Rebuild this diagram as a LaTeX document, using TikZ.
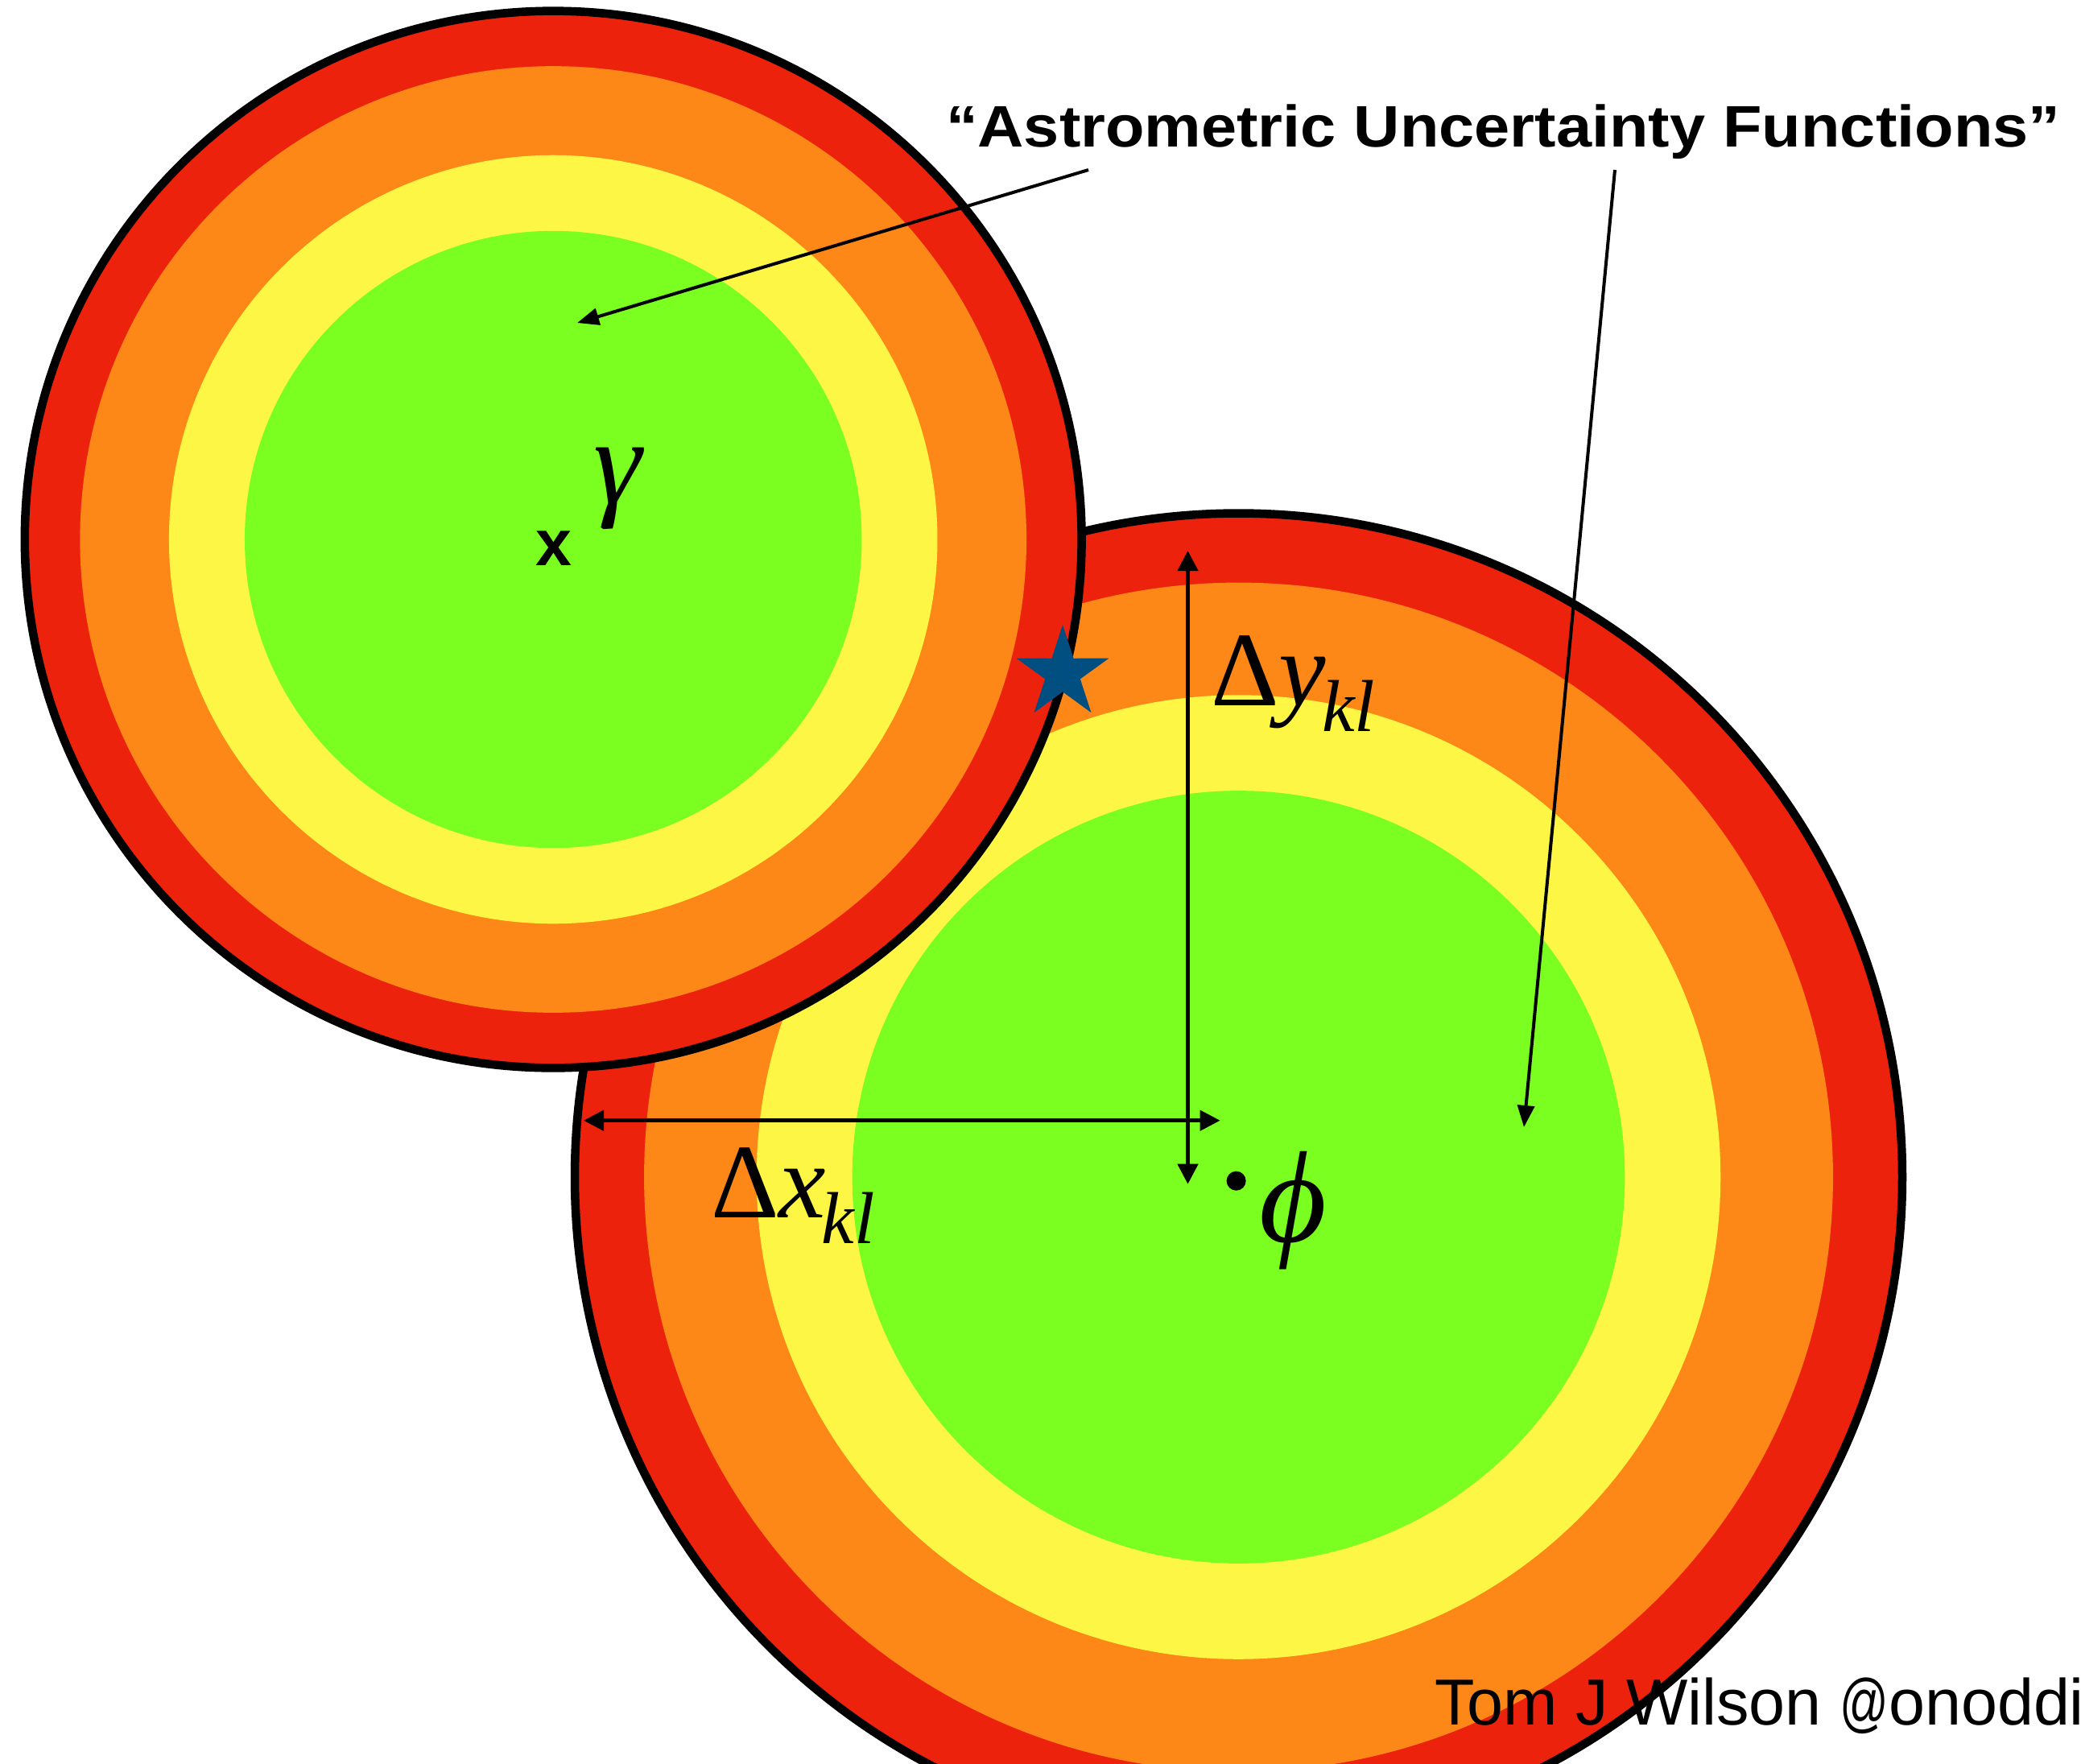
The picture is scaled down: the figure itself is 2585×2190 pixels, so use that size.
\documentclass[tikz,border=0pt]{standalone}
\usepackage{graphicx}
\usepackage{fontspec}
\newfontfamily\arialf{Liberation Sans}
\newfontfamily\timesf{Liberation Serif}
\usetikzlibrary{arrows.meta,shapes.geometric}
\definecolor{ringred}{RGB}{237,34,13}
\definecolor{ringorange}{RGB}{253,135,23}
\definecolor{ringyellow}{RGB}{254,246,69}
\definecolor{ringgreen}{RGB}{123,255,33}
\definecolor{starblue}{RGB}{1,79,128}
\newcommand{\subkl}{\hspace{-0.05cm}\raisebox{-0.32cm}{\fontsize{26pt}{28pt}\selectfont\itshape kl}}
\begin{document}
\begin{tikzpicture}[x=0.01cm,y=-0.01cm,
  ring/.style={line width=0.105cm, draw=black},
  dimarrow/.style={line width=0.045cm, {Triangle[length=0.25cm,width=0.25cm]}-{Triangle[length=0.25cm,width=0.25cm]}},
  callout/.style={line width=0.04cm, -{Triangle[length=0.27cm,width=0.21cm]}},
  lbl/.style={inner sep=0pt, outer sep=0pt},
  greek/.style={lbl, anchor=base, font=\timesf\itshape\fontsize{46pt}{50pt}\selectfont},
  delta/.style={lbl, anchor=base west, font=\timesf\fontsize{37.4pt}{40pt}\selectfont}]
\useasboundingbox (0,0) rectangle (2585,2190);
\clip (0,0) rectangle (2585,2190);

% lower uncertainty function (phi)
\coordinate (phiC) at (1538.5,1462);
\fill[ringred] (phiC) circle[radius=8.24cm];
\fill[ringorange] (phiC) circle[radius=7.38cm];
\fill[ringyellow] (phiC) circle[radius=5.984cm];
\fill[ringgreen] (phiC) circle[radius=4.796cm];
\draw[ring] (phiC) circle[radius=8.24cm];

% upper uncertainty function (gamma)
\coordinate (gamC) at (687.2,670);
\fill[ringred] (gamC) circle[radius=6.56cm];
\fill[ringorange] (gamC) circle[radius=5.875cm];
\fill[ringyellow] (gamC) circle[radius=4.77cm];
\fill[ringgreen] (gamC) circle[radius=3.83cm];
\draw[ring] (gamC) circle[radius=6.56cm];

% star
\node[star, star points=5, star point ratio=2.63, fill=starblue, inner sep=0pt, minimum size=1.206cm] (star) at (1320,836.3) {};

% centre dot of phi
\node[circle, fill=black, inner sep=0pt, minimum size=0.24cm] (dot) at (1535.6,1466.7) {};

% labels
\node[greek] (phi) at (1606,1542) {ϕ};
\node[greek, font=\timesf\itshape\fontsize{43pt}{47pt}\selectfont] (gamma) at (767,625) {γ};
\node[lbl, anchor=base, font=\arialf\bfseries\fontsize{23pt}{28pt}\selectfont] (xmark) at (688,702) {x};
\node[delta] (dx) at (883,1512) {Δ\textit{x}\subkl};
\node[delta] (dy) at (1504,876) {Δ\textit{y}\subkl};
\node[lbl, anchor=base west, font=\arialf\bfseries\fontsize{20.7pt}{25pt}\selectfont] (title) at (1175,182) {\scalebox{1.09}[1]{“Astrometric Uncertainty Functions”}};
\node[lbl, anchor=base west, font=\arialf\fontsize{23pt}{28pt}\selectfont] (credit) at (1782,2142) {Tom J Wilson \scalebox{0.74}[1]{@}onoddil};

% dimension arrows
\coordinate (dyTop) at (1475.5,684);
\coordinate (dyBot) at (1475.5,1470.7);
\draw[dimarrow] (dyTop) -- (dyBot);
\coordinate (dxLeft) at (725,1391.7);
\coordinate (dxRight) at (1515.6,1391.7);
\draw[dimarrow] (dxLeft) -- (dxRight);

% callout arrows from title
\coordinate (titleL) at (1352,211);
\coordinate (titleR) at (2006,211);
\coordinate (tipGam) at (717,401);
\coordinate (tipPhi) at (1893,1400);
\draw[callout] (titleL) -- (tipGam);
\draw[callout] (titleR) -- (tipPhi);
\end{tikzpicture}
\end{document}
